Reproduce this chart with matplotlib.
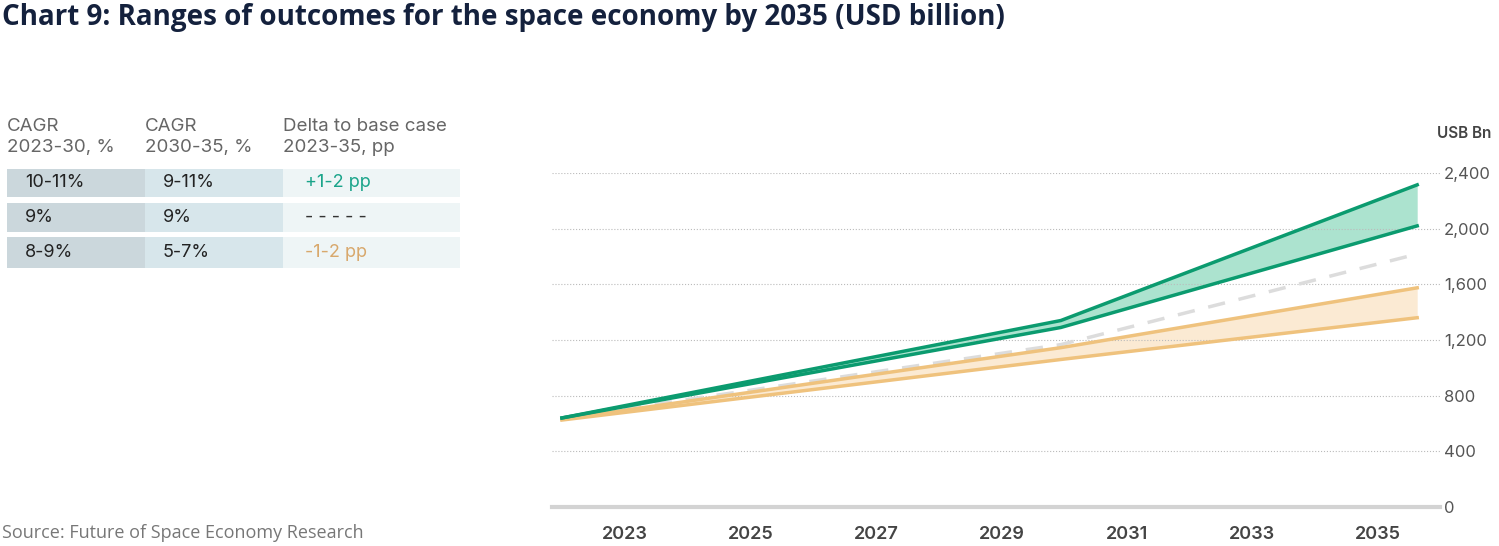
"""
Chart 9: ranges of outcomes for the space economy by 2035
"""
import matplotlib.pyplot as plt
from matplotlib.patches import Rectangle

# 数据（从图上读取的估计值，2023 / 2030 / 2035）
years = [2023, 2030, 2035]
high_upper = [640, 1340, 2315]
high_lower = [640, 1290, 2020]
base_case = [640, 1167, 1818]
low_upper = [630, 1145, 1575]
low_lower = [625, 1060, 1360]

y_ticks = [0, 400, 800, 1200, 1600, 2000, 2400]
x_labels = [2023, 2025, 2027, 2029, 2031, 2033, 2035]

table_header = ['CAGR\n2023-30, %', 'CAGR\n2030-35, %', 'Delta to base case\n2023-35, pp']
cagr_2023_30 = ['10-11%', '9%', '8-9%']
cagr_2030_35 = ['9-11%', '9%', '5-7%']
delta_base = ['+1-2 pp', '- - - - -', '-1-2 pp']

GREEN = '#0b9b6f'
GREEN_FILL = '#ace3cf'
ORANGE = '#efc27d'
ORANGE_FILL = '#fbead3'

W, H = 1499, 546
fig = plt.figure(figsize=(W / 100, H / 100), dpi=100)

# 主图区域
ax = fig.add_axes([552 / W, (H - 507) / H, (1440 - 552) / W, (507 - 173) / H])
ax.fill_between(years, high_upper, high_lower, color=GREEN_FILL, lw=0)
ax.fill_between(years, low_upper, low_lower, color=ORANGE_FILL, lw=0)
ax.plot(years, base_case, color='#dcdcdc', lw=2.5, dashes=(5, 4))
ax.plot(years, low_upper, color=ORANGE, lw=2.5)
ax.plot(years, low_lower, color=ORANGE, lw=2.5)
ax.plot(years, high_upper, color=GREEN, lw=2.5)
ax.plot(years, high_lower, color=GREEN, lw=2.5)

ax.set_xlim(2022.86, 2035.32)
ax.set_ylim(0, 2400)
ax.set_xticks([])
ax.set_yticks(y_ticks)
ax.set_yticklabels([f'{v:,}' for v in y_ticks], fontsize=12, color='#555555',
                   family='Inter')
ax.yaxis.tick_right()
ax.tick_params(axis='y', length=0, pad=3)
ax.grid(axis='y', color='#bbbbbb', lw=0.8, ls=':')
for s in ['top', 'left', 'right']:
    ax.spines[s].set_visible(False)
ax.spines['bottom'].set_color('#d3d3d3')
ax.spines['bottom'].set_linewidth(3)

# 年份标签
ax2 = ax.twiny()
ax2.set_xlim(2021.84, 2035.99)
ax2.xaxis.set_ticks_position('bottom')
ax2.set_xticks(x_labels)
ax2.set_xticklabels([str(x) for x in x_labels], fontsize=13, color='#444444',
                    family='Inter', fontweight='semibold')
ax2.tick_params(axis='x', length=0, pad=14)
for s in ax2.spines.values():
    s.set_visible(False)

fig.text(1437 / W, 1 - 133 / H, 'USB Bn', fontsize=11, color='#444444',
         family='Inter', fontweight='semibold', va='center')

# 标题和来源
fig.text(2 / W, 1 - 18 / H, 'Chart 9: Ranges of outcomes for the space economy by 2035 (USD billion)',
         fontsize=20, fontweight='bold', color='#14213d', family='Open Sans', va='center')
fig.text(2 / W, 1 - 533 / H, 'Source: Future of Space Economy Research',
         fontsize=13, color='#777777', family='Open Sans', va='center')

# 左侧表格
col_x = [7, 145, 283, 460]
col_text_x = [25, 163, 305]
row_y = [(169, 197), (203, 232), (237, 268)]
cell_colors = ['#cbd7dc', '#d7e6eb', '#eef5f6']
delta_colors = ['#1aa48a', '#333333', '#d8a86c']

for i, head in enumerate(table_header):
    fig.text(col_x[i] / W, 1 - 137 / H, head, fontsize=13.5, color='#666666',
             family='Inter', va='center', linespacing=1.3)

for r, (y0, y1) in enumerate(row_y):
    for c in range(3):
        fig.patches.append(Rectangle((col_x[c] / W, 1 - y1 / H), (col_x[c + 1] - col_x[c]) / W,
                                     (y1 - y0) / H, transform=fig.transFigure,
                                     color=cell_colors[c], lw=0))
    yc = 1 - (y0 + y1) / 2 / H
    fig.text(col_text_x[0] / W, yc, cagr_2023_30[r], fontsize=13, color='#222222',
             family='Inter', va='center')
    fig.text(col_text_x[1] / W, yc, cagr_2030_35[r], fontsize=13, color='#222222',
             family='Inter', va='center')
    fig.text(col_text_x[2] / W, yc, delta_base[r], fontsize=13, color=delta_colors[r],
             family='Inter', va='center')

fig.savefig('out.png', dpi=100)
